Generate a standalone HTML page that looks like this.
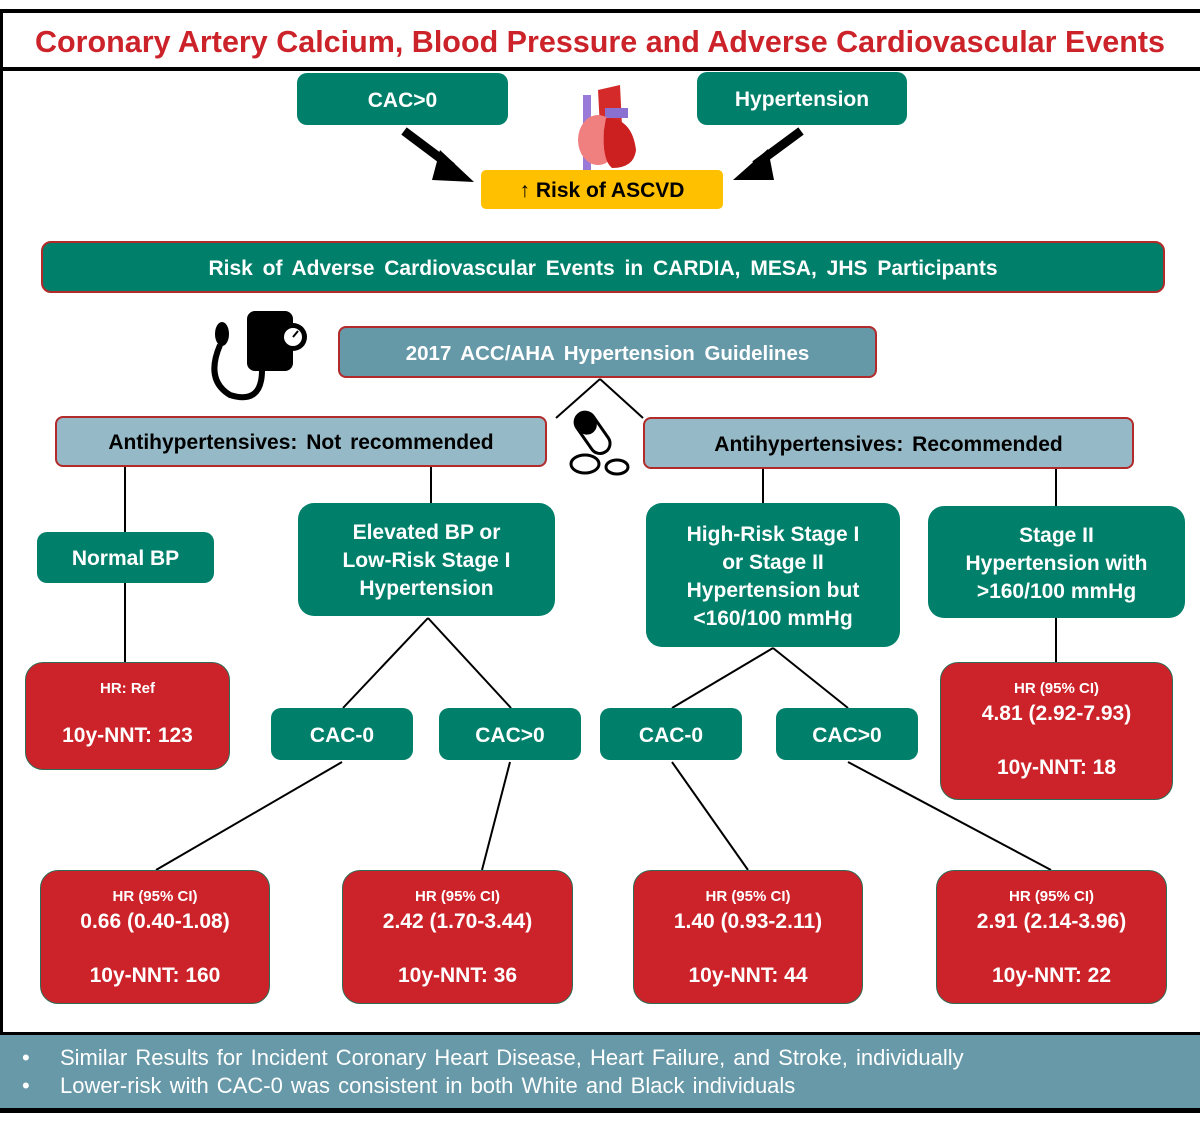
<!DOCTYPE html>
<html><head><meta charset="utf-8"><style>
*{margin:0;padding:0;box-sizing:border-box}
body{width:1200px;height:1124px;background:#fff;position:relative;overflow:hidden;font-family:"Liberation Sans",Arial,sans-serif}
.b{position:absolute;display:flex;align-items:center;justify-content:center;text-align:center;font-weight:bold;color:#fff;padding-top:3px}
.g{background:#00806a;border-radius:10px;font-size:21px;line-height:28px}
.r{background:#cc2229;border-radius:18px;border:1.5px solid #2f6b55;flex-direction:column;justify-content:flex-start;padding-top:0}
.r .s{font-size:15px;margin-top:17px;height:20px}
.r .m{font-size:21px;margin-top:2px}
.r .n{font-size:21px}
</style></head><body>
<div style="position:absolute;left:0;top:9px;width:1200px;height:4px;background:#000"></div>
<div style="position:absolute;left:0;top:9px;width:3px;height:1104px;background:#000"></div>
<div style="position:absolute;left:0;top:67px;width:1200px;height:4px;background:#000"></div>
<div style="position:absolute;left:0;top:15px;width:1200px;height:54px;text-align:center;color:#cc2229;font-weight:bold;font-size:30.5px;line-height:54px;letter-spacing:0px">Coronary Artery Calcium, Blood Pressure and Adverse Cardiovascular Events</div>

<svg style="position:absolute;left:0;top:0" width="1200" height="1124">
<g stroke="#000" stroke-width="9">
<line x1="404" y1="131" x2="452" y2="167"/><line x1="801" y1="131" x2="755" y2="165"/>
</g>
<polygon points="440,150 474,182 432,180" fill="#000"/>
<polygon points="768,149 733,180 774,180" fill="#000"/>
<g stroke="#000" stroke-width="2" fill="none">
<line x1="600" y1="379" x2="556" y2="418"/><line x1="600" y1="379" x2="643" y2="418"/>
<line x1="125" y1="467" x2="125" y2="532"/><line x1="431" y1="467" x2="431" y2="503"/>
<line x1="763" y1="469" x2="763" y2="503"/><line x1="1056" y1="469" x2="1056" y2="506"/>
<line x1="125" y1="583" x2="125" y2="662"/><line x1="1056" y1="618" x2="1056" y2="662"/>
<line x1="428" y1="618" x2="343" y2="708"/><line x1="428" y1="618" x2="511" y2="708"/>
<line x1="773" y1="648" x2="672" y2="708"/><line x1="773" y1="648" x2="848" y2="708"/>
<line x1="342" y1="762" x2="156" y2="870"/><line x1="510" y1="762" x2="482" y2="870"/>
<line x1="672" y1="762" x2="748" y2="870"/><line x1="848" y1="762" x2="1051" y2="870"/>
</g>
<rect x="583" y="95" width="8" height="75" fill="#9a7ad8"/>
<path d="M598 90 L620 85 L622 125 L600 128Z" fill="#d42a2a"/>
<path d="M605 108 L628 108 L628 118 L605 118Z" fill="#8a70d0"/>
<ellipse cx="598" cy="140" rx="20" ry="25" fill="#f08080"/>
<path d="M606 118 Q632 118 636 150 Q634 168 612 168 Q602 160 604 130Z" fill="#cc1f1f"/>
<rect x="247" y="311" width="46" height="60" rx="8" fill="#000"/>
<circle cx="293" cy="337" r="14" fill="#000"/><circle cx="293" cy="337" r="9" fill="#fff"/>
<line x1="293" y1="337" x2="298" y2="331" stroke="#000" stroke-width="2"/>
<ellipse cx="222" cy="334" rx="7" ry="12" fill="#000"/>
<path d="M220 345 Q205 380 230 395 Q262 405 262 370" stroke="#000" stroke-width="6" fill="none"/>
<g transform="rotate(-35 592 432)"><rect x="582" y="410" width="20" height="46" rx="10" fill="#fff" stroke="#000" stroke-width="3"/><rect x="582" y="410" width="20" height="23" rx="10" fill="#000"/></g>
<ellipse cx="585" cy="464" rx="14" ry="9" fill="#fff" stroke="#000" stroke-width="3"/>
<ellipse cx="617" cy="467" rx="11" ry="7" fill="#fff" stroke="#000" stroke-width="3"/>
</svg>

<div class="b g" style="left:297px;top:73px;width:211px;height:52px">CAC&gt;0</div>
<div class="b g" style="left:697px;top:72px;width:210px;height:53px">Hypertension</div>
<div class="b" style="left:481px;top:170px;width:242px;height:39px;background:#ffc000;color:#000;border-radius:5px;font-size:21px">↑ Risk of ASCVD</div>
<div class="b g" style="left:41px;top:241px;width:1124px;height:52px;border:2px solid #b22a2a;font-size:21px;word-spacing:4px">Risk of Adverse Cardiovascular Events in CARDIA, MESA, JHS Participants</div>
<div class="b" style="left:338px;top:326px;width:539px;height:52px;background:#6699a8;border:2px solid #b22a2a;border-radius:8px;font-size:20.5px;word-spacing:4px">2017 ACC/AHA Hypertension Guidelines</div>
<div class="b" style="left:55px;top:416px;width:492px;height:51px;background:#95b9c6;border:2px solid #b22a2a;border-radius:8px;font-size:21px;color:#000;word-spacing:3px">Antihypertensives: Not recommended</div>
<div class="b" style="left:643px;top:417px;width:491px;height:52px;background:#95b9c6;border:2px solid #b22a2a;border-radius:8px;font-size:21px;color:#000;word-spacing:3px">Antihypertensives: Recommended</div>

<div class="b g" style="left:37px;top:532px;width:177px;height:51px">Normal BP</div>
<div class="b g" style="left:298px;top:503px;width:257px;height:113px;border-radius:16px">Elevated BP or<br>Low-Risk Stage I<br>Hypertension</div>
<div class="b g" style="left:646px;top:503px;width:254px;height:144px;border-radius:16px">High-Risk Stage I<br>or Stage II<br>Hypertension but<br>&lt;160/100 mmHg</div>
<div class="b g" style="left:928px;top:506px;width:257px;height:112px;border-radius:16px">Stage II<br>Hypertension with<br>&gt;160/100 mmHg</div>

<div class="b r" style="left:25px;top:662px;width:205px;height:108px"><div class="s" style="margin-top:17px">HR: Ref</div><div class="n" style="margin-top:24px">10y-NNT: 123</div></div>
<div class="b r" style="left:940px;top:662px;width:233px;height:138px"><div class="s">HR (95% CI)</div><div class="m">4.81 (2.92-7.93)</div><div class="n" style="margin-top:30px">10y-NNT: 18</div></div>

<div class="b g" style="left:271px;top:708px;width:142px;height:52px">CAC-0</div>
<div class="b g" style="left:439px;top:708px;width:142px;height:52px">CAC&gt;0</div>
<div class="b g" style="left:600px;top:708px;width:142px;height:52px">CAC-0</div>
<div class="b g" style="left:776px;top:708px;width:142px;height:52px">CAC&gt;0</div>

<div class="b r" style="left:40px;top:870px;width:230px;height:134px"><div class="s">HR (95% CI)</div><div class="m">0.66 (0.40-1.08)</div><div class="n" style="margin-top:30px">10y-NNT: 160</div></div>
<div class="b r" style="left:342px;top:870px;width:231px;height:134px"><div class="s">HR (95% CI)</div><div class="m">2.42 (1.70-3.44)</div><div class="n" style="margin-top:30px">10y-NNT: 36</div></div>
<div class="b r" style="left:633px;top:870px;width:230px;height:134px"><div class="s">HR (95% CI)</div><div class="m">1.40 (0.93-2.11)</div><div class="n" style="margin-top:30px">10y-NNT: 44</div></div>
<div class="b r" style="left:936px;top:870px;width:231px;height:134px"><div class="s">HR (95% CI)</div><div class="m">2.91 (2.14-3.96)</div><div class="n" style="margin-top:30px">10y-NNT: 22</div></div>

<div style="position:absolute;left:0;top:1032px;width:1200px;height:3px;background:#000"></div>
<div style="position:absolute;left:0;top:1035px;width:1200px;height:73px;background:#6799a9;color:#fff;font-size:22px;line-height:28px;padding-top:9px;word-spacing:2px">
<div><span style="display:inline-block;width:60px;padding-left:22px">•</span>Similar Results for Incident Coronary Heart Disease, Heart Failure, and Stroke, individually</div>
<div><span style="display:inline-block;width:60px;padding-left:22px">•</span>Lower-risk with CAC-0 was consistent in both White and Black individuals</div>
</div>
<div style="position:absolute;left:0;top:1108px;width:1200px;height:5px;background:#000"></div>
</body></html>
